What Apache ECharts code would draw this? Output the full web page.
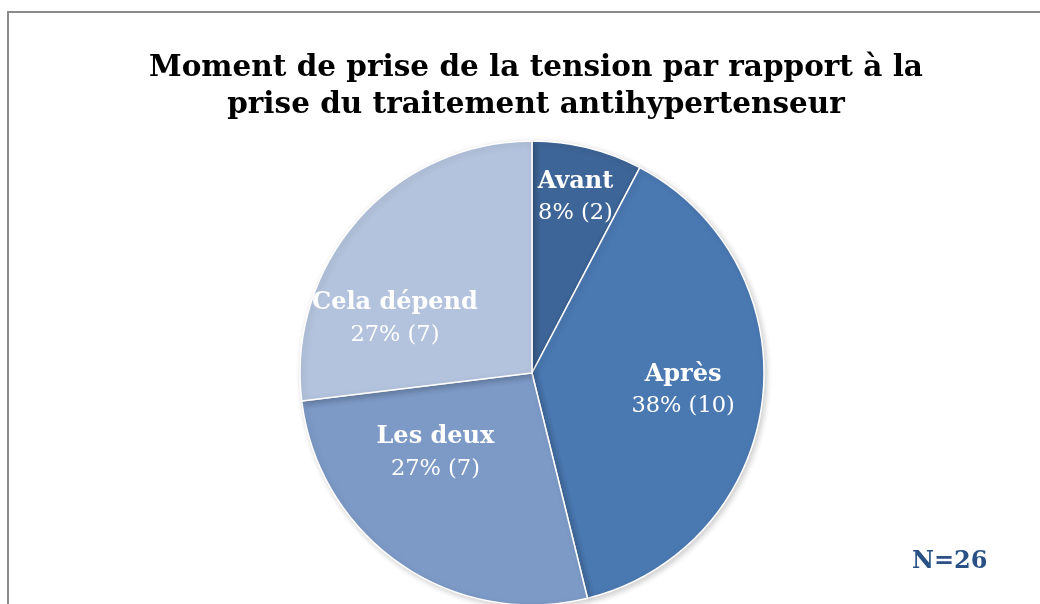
<!DOCTYPE html>
<html>
<head>
<meta charset="utf-8">
<script src="https://cdn.jsdelivr.net/npm/echarts@6/dist/echarts.min.js"></script>
<style>
  html, body { margin: 0; padding: 0; background: #fff; }
  #chart { width: 1040px; height: 604px; }
</style>
</head>
<body>
<div id="chart"></div>
<script>
  // données
  var categories = ['Avant', 'Après', 'Les deux', 'Cela dépend']
  var counts = [2, 10, 7, 7]
  var colors = ['#3e6597', '#4a78b1', '#7d9ac7', '#b4c3dd']
  var total = 26

  // décalage des étiquettes (px) pour coller au rendu d'origine
  var labelShift = [[15, -60], [33, 3], [-29, -18], [-48, 25]]

  var serif = '"DejaVu Serif", "Liberation Serif", serif'

  var chart = echarts.init(document.getElementById('chart'))

  chart.setOption({
    animation: false,
    title: {
      text: 'Moment de prise de la tension par rapport à la\nprise du traitement antihypertenseur',
      left: 531,
      top: 45,
      textAlign: 'center',
      textStyle: {
        fontFamily: serif,
        fontWeight: 'bold',
        fontSize: 29.5,
        lineHeight: 37,
        color: '#000'
      }
    },
    graphic: [
      {
        type: 'rect',
        shape: {x: 8, y: 12, width: 1200, height: 800},
        style: {fill: 'none', stroke: '#8a8a8a', lineWidth: 2},
        silent: true
      },
      {
        type: 'text',
        left: 912,
        top: 550,
        style: {
          text: 'N=' + total,
          font: 'bold 24px ' + serif,
          fill: '#2a5185'
        }
      }
    ],
    series: [
      {
        type: 'pie',
        center: [532, 373],
        radius: 232,
        startAngle: 90,
        clockwise: true,
        itemStyle: {
          borderColor: '#fff',
          borderWidth: 1.5,
          shadowBlur: 6,
          shadowOffsetX: 2,
          shadowOffsetY: 2,
          shadowColor: 'rgba(0,0,0,0.2)'
        },
        label: {
          show: true,
          position: 'inside',
          formatter: function (p) {
            return '{n|' + p.name + '}\n{v|' + Math.round(p.value / total * 100) + '% (' + p.value + ')}'
          },
          rich: {
            n: {fontFamily: serif, fontWeight: 'bold', fontSize: 24, color: '#fff', lineHeight: 32},
            v: {fontFamily: serif, fontSize: 22.5, color: '#fff', lineHeight: 32}
          }
        },
        labelLayout: function (p) {
          var s = labelShift[p.dataIndex]
          return {dx: s[0], dy: s[1]}
        },
        labelLine: {show: false},
        data: categories.map(function (c, i) {
          return {name: c, value: counts[i], itemStyle: {color: colors[i]}}
        })
      }
    ]
  })
</script>
</body>
</html>
